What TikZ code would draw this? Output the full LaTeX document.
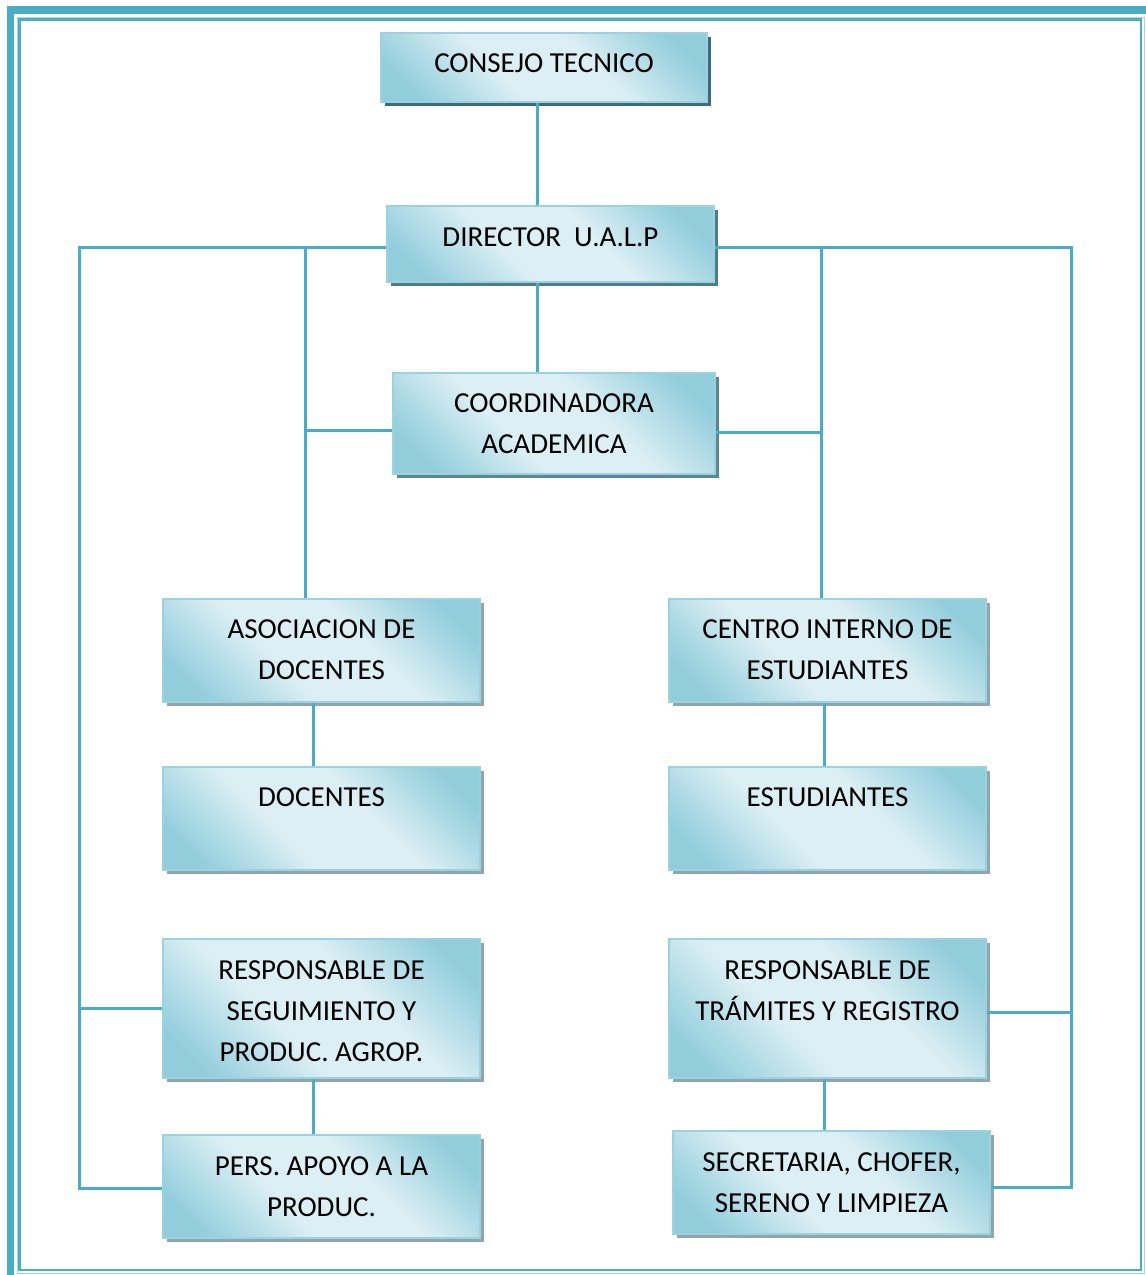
\documentclass[tikz,border=0pt]{standalone}
\usepackage{fontspec}
\setmainfont{Carlito}
\usetikzlibrary{shadows}

\definecolor{linecol}{HTML}{4BACC6}
\definecolor{framelight}{HTML}{A5D5E2}
\definecolor{boxdark}{HTML}{92CDDC}
\definecolor{boxlight}{HTML}{DCEFF4}
\definecolor{boxedge}{HTML}{9CD2E0}
\definecolor{shA}{HTML}{3B6C78}
\definecolor{shB}{HTML}{4E7D88}
\definecolor{shC}{HTML}{5C8792}
\definecolor{shD}{HTML}{8FA6AE}

% diagonal fill of the boxes: dark corners, broad pale band in the middle
\pgfdeclareverticalshading{boxshade}{100bp}{
  color(0bp)=(boxdark); color(22bp)=(boxdark); color(41bp)=(boxlight);
  color(59bp)=(boxlight); color(78bp)=(boxdark); color(100bp)=(boxdark)}

% strut that fixes the top of the first text line
\newcommand{\firstline}{\rule{0pt}{26pt}}

\tikzset{
  orgbox/.style={
    draw=boxedge, line width=2pt, anchor=north west, inner sep=0pt,
    shading=boxshade, shading angle=-45,
    general shadow={fill=#1, shadow xshift=3.5pt, shadow yshift=-3.5pt}
  },
  orgbox/.default=shD,
  boxtext/.style={anchor=north, inner sep=0pt, align=center,
    font=\fontsize{29}{41}\selectfont, text=black},
  conn/.style={draw=linecol, line width=3pt}
}

\begin{document}
\begin{tikzpicture}[x=1pt, y=-1pt]
\useasboundingbox (0,0) rectangle (1146,1275);

% page frame
\fill[linecol] (7,6) rectangle (1146,14);
\fill[linecol] (7,6) rectangle (14,1275);
\draw[framelight, line width=1pt] (17,17) rectangle (1144.5,1273.5);
\draw[linecol, line width=2.5pt] (19.5,19.5) rectangle (1141,1270);

% boxes
\node[orgbox=shA, minimum width=326pt, minimum height=69pt]  (cons) at (380,32) {};
\node[orgbox=shB, minimum width=327pt, minimum height=76pt]  (dir)  at (386,205) {};
\node[orgbox=shC, minimum width=322pt, minimum height=101pt] (coord) at (392,372) {};
\node[orgbox, minimum width=317pt, minimum height=103pt] (asoc) at (162,598) {};
\node[orgbox, minimum width=317pt, minimum height=103pt] (cent) at (668,598) {};
\node[orgbox, minimum width=317pt, minimum height=103pt] (doc)  at (162,766) {};
\node[orgbox, minimum width=317pt, minimum height=103pt] (est)  at (668,766) {};
\node[orgbox, minimum width=317pt, minimum height=139pt] (rseg) at (162,938) {};
\node[orgbox, minimum width=317pt, minimum height=139pt] (rtra) at (668,938) {};
\node[orgbox, minimum width=317pt, minimum height=103pt] (pers) at (162,1134) {};
\node[orgbox, minimum width=317pt, minimum height=103pt] (sec)  at (672,1130) {};

% box texts, set from the top of each box
\node[boxtext] (cons-t)  at ([yshift=-14.3pt]cons.north)  {\firstline CONSEJO TECNICO};
\node[boxtext] (dir-t)   at ([yshift=-15pt]dir.north)     {\firstline DIRECTOR\ \ U.A.L.P};
\node[boxtext] (coord-t) at ([yshift=-14.3pt]coord.north) {\firstline COORDINADORA\\ACADEMICA};
\node[boxtext] (asoc-t)  at ([yshift=-14.5pt]asoc.north)  {\firstline ASOCIACION DE\\DOCENTES};
\node[boxtext] (cent-t)  at ([yshift=-14.5pt]cent.north)  {\firstline CENTRO INTERNO DE\\ESTUDIANTES};
\node[boxtext] (doc-t)   at ([yshift=-14.3pt]doc.north)   {\firstline DOCENTES};
\node[boxtext] (est-t)   at ([yshift=-14.3pt]est.north)   {\firstline ESTUDIANTES};
\node[boxtext] (rseg-t)  at ([yshift=-15pt]rseg.north)    {\firstline RESPONSABLE DE\\SEGUIMIENTO Y\\PRODUC. AGROP.};
\node[boxtext] (rtra-t)  at ([yshift=-15pt]rtra.north)    {\firstline RESPONSABLE DE\\TRÁMITES Y REGISTRO};
\node[boxtext] (pers-t)  at ([yshift=-15pt]pers.north)    {\firstline PERS. APOYO A LA\\PRODUC.};
\node[boxtext] (sec-t)   at ([yshift=-15pt]sec.north)     {\firstline SECRETARIA, CHOFER,\\SERENO Y LIMPIEZA};

% routing points
\coordinate (spine) at (537,0);
\coordinate (tl) at (79,247);
\coordinate (tr) at (1071,247);
\coordinate (bl) at (79,1188);
\coordinate (br) at (1071,1187);
\coordinate (il) at (305,247);
\coordinate (ir) at (821,247);
\coordinate (ilm) at (305,430);
\coordinate (irm) at (821,432);
\coordinate (ldoc) at (313,0);
\coordinate (rest) at (824,0);

% connectors
\draw[conn] (cons.south -| spine) -- (dir.north -| spine);
\draw[conn] (dir.south -| spine) -- (coord.north -| spine);
\draw[conn] (dir.west |- tl) -- (tl) -- (bl) -- (bl -| pers.west);
\draw[conn] (tl |- rseg.west) -- (rseg.west);
\draw[conn] (dir.east |- tr) -- (tr) -- (br) -- (br -| sec.east);
\draw[conn] (tr |- 0,1012) -- (rtra.east |- 0,1012);
\draw[conn] (il) -- (il |- asoc.north);
\draw[conn] (ilm) -- (ilm -| coord.west);
\draw[conn] (ir) -- (ir |- cent.north);
\draw[conn] (irm) -- (irm -| coord.east);
\draw[conn] (asoc.south -| ldoc) -- (doc.north -| ldoc);
\draw[conn] (rseg.south -| ldoc) -- (pers.north -| ldoc);
\draw[conn] (cent.south -| rest) -- (est.north -| rest);
\draw[conn] (rtra.south -| rest) -- (sec.north -| rest);
\end{tikzpicture}
\end{document}
